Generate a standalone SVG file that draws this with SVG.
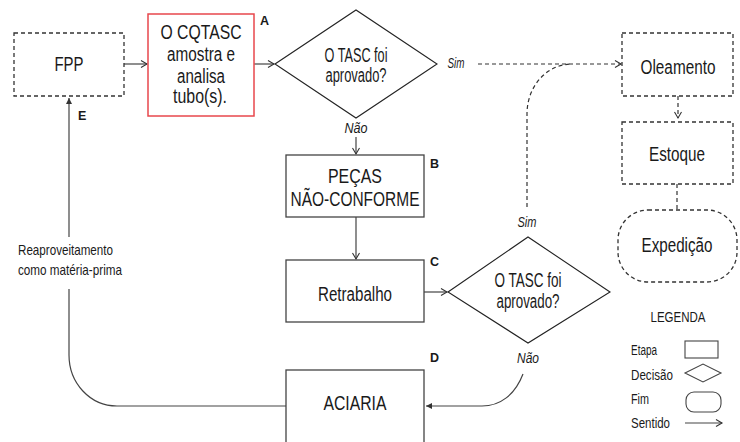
<svg xmlns="http://www.w3.org/2000/svg" width="740" height="442" viewBox="0 0 740 442">
<defs>
<style>
text{font-family:"Liberation Sans",Arial,sans-serif;fill:#1a1a1a}
.t{font-size:19.5px;text-anchor:middle}
.s{font-size:14px;font-style:italic;text-anchor:middle}
.lbl{font-size:12.5px;font-weight:bold}
.n{font-size:15px}
.g{font-size:14px}
.box{fill:#fff;stroke:#444;stroke-width:1.3}
.dbox{fill:#fff;stroke:#333;stroke-width:1.3;stroke-dasharray:4 3}
.red{fill:#fff;stroke:#e8474c;stroke-width:1.5}
.dia{fill:#fff;stroke:#222;stroke-width:1.1}
.c{fill:none;stroke:#444;stroke-width:1.2}
.dc{fill:none;stroke:#333;stroke-width:1.2;stroke-dasharray:4 3}
</style>
<marker id="ah" markerUnits="userSpaceOnUse" markerWidth="10" markerHeight="10" refX="7" refY="4" orient="auto">
<path d="M1,0.5 L7,4 L1,7.5" fill="none" stroke="#333" stroke-width="1.1"/>
</marker>
<marker id="af" markerUnits="userSpaceOnUse" markerWidth="8" markerHeight="8" refX="6" refY="3" orient="auto">
<path d="M0,0 L6,3 L0,6 Z" fill="#333"/>
</marker>
</defs>

<g id="connectors">
<line class="c" x1="124" y1="64" x2="147" y2="64" marker-end="url(#ah)"/>
<line class="c" x1="254" y1="64" x2="274" y2="64" marker-end="url(#ah)"/>
<line class="dc" x1="478" y1="64" x2="621" y2="64" marker-end="url(#ah)"/>
<line class="dc" x1="678" y1="96" x2="678" y2="118" marker-end="url(#ah)"/>
<line class="dc" x1="677" y1="184" x2="677" y2="210"/>
<path class="dc" d="M527,207 V114 C527,86 547,64 572,64"/>
<line class="c" x1="356" y1="137" x2="356" y2="154" marker-end="url(#ah)"/>
<line class="c" x1="356" y1="217" x2="356" y2="259" marker-end="url(#ah)"/>
<line class="c" x1="424" y1="292" x2="447" y2="292" marker-end="url(#ah)"/>
<path class="c" d="M523,374 C515,395 500,406 482,406 H426" marker-end="url(#af)"/>
<path class="c" d="M286,406 H117 C90,406 69,383 69,355 V289"/>
<line class="c" x1="69" y1="237" x2="69" y2="98" marker-end="url(#af)"/>
</g>

<g id="fpp">
<rect class="dbox" x="14" y="33" width="110" height="63"/>
<text class="t" x="69" y="71" textLength="29" lengthAdjust="spacingAndGlyphs">FPP</text>
</g>

<g id="cqtasc">
<rect class="red" x="148" y="14" width="106" height="102"/>
<text class="t" x="201" y="39" textLength="81" lengthAdjust="spacingAndGlyphs">O CQTASC</text>
<text class="t" x="201" y="61" textLength="68" lengthAdjust="spacingAndGlyphs">amostra e</text>
<text class="t" x="201" y="83" textLength="48" lengthAdjust="spacingAndGlyphs">analisa</text>
<text class="t" x="200" y="103" textLength="54" lengthAdjust="spacingAndGlyphs">tubo(s).</text>
<text class="lbl" x="260" y="25">A</text>
</g>

<g id="decisao1">
<polygon class="dia" points="275,64 356,10 437,64 356,118"/>
<text class="t" x="356" y="62" textLength="63" lengthAdjust="spacingAndGlyphs">O TASC foi</text>
<text class="t" x="356" y="82" textLength="61" lengthAdjust="spacingAndGlyphs">aprovado?</text>
<text class="s" x="456" y="68" textLength="17" lengthAdjust="spacingAndGlyphs">Sim</text>
<text class="s" x="356" y="133" textLength="23" lengthAdjust="spacingAndGlyphs">Não</text>
</g>

<g id="oleamento">
<rect class="dbox" x="622" y="33" width="111" height="63"/>
<text class="t" x="678" y="74" textLength="75" lengthAdjust="spacingAndGlyphs">Oleamento</text>
</g>

<g id="estoque">
<rect class="dbox" x="622" y="122" width="111" height="62"/>
<text class="t" x="677" y="161" textLength="56" lengthAdjust="spacingAndGlyphs">Estoque</text>
</g>

<g id="expedicao">
<rect class="dbox" x="618" y="210" width="119" height="72" rx="30" ry="30"/>
<text class="t" x="677" y="252" textLength="71" lengthAdjust="spacingAndGlyphs">Expedição</text>
</g>

<g id="pecas">
<rect class="box" x="286" y="155" width="138" height="62"/>
<text class="t" x="355" y="183" textLength="54" lengthAdjust="spacingAndGlyphs">PEÇAS</text>
<text class="t" x="355" y="206" textLength="129" lengthAdjust="spacingAndGlyphs">NÃO-CONFORME</text>
<text class="lbl" x="430" y="168">B</text>
</g>

<g id="retrabalho">
<rect class="box" x="286" y="260" width="138" height="62"/>
<text class="t" x="355" y="301" textLength="74" lengthAdjust="spacingAndGlyphs">Retrabalho</text>
<text class="lbl" x="430" y="266">C</text>
</g>

<g id="decisao2">
<polygon class="dia" points="448,292 528,237 610,292 528,343"/>
<text class="t" x="528" y="287" textLength="67" lengthAdjust="spacingAndGlyphs">O TASC foi</text>
<text class="t" x="528" y="308" textLength="63" lengthAdjust="spacingAndGlyphs">aprovado?</text>
<text class="s" x="527" y="227" textLength="19" lengthAdjust="spacingAndGlyphs">Sim</text>
<text class="s" x="528" y="363" textLength="22" lengthAdjust="spacingAndGlyphs">Não</text>
</g>

<g id="aciaria">
<rect class="box" x="286" y="370" width="138" height="80"/>
<text class="t" x="355" y="410" textLength="63" lengthAdjust="spacingAndGlyphs">ACIARIA</text>
<text class="lbl" x="430" y="362">D</text>
</g>

<g id="reaproveitamento">
<text class="lbl" x="78" y="120">E</text>
<text class="n" x="18" y="255" textLength="95" lengthAdjust="spacingAndGlyphs">Reaproveitamento</text>
<text class="n" x="18" y="275" textLength="104" lengthAdjust="spacingAndGlyphs">como matéria-prima</text>
</g>

<g id="legenda">
<text class="g" x="678" y="322" text-anchor="middle" textLength="55" lengthAdjust="spacingAndGlyphs">LEGENDA</text>
<text class="g" x="631" y="355" textLength="26" lengthAdjust="spacingAndGlyphs">Etapa</text>
<rect x="685" y="341" width="33" height="17" fill="#fff" stroke="#444" stroke-width="1.1"/>
<text class="g" x="631" y="380" textLength="42" lengthAdjust="spacingAndGlyphs">Decisão</text>
<polygon points="685,373 703,364 721,373 703,382" fill="#fff" stroke="#444" stroke-width="1.1"/>
<text class="g" x="631" y="404" textLength="18" lengthAdjust="spacingAndGlyphs">Fim</text>
<rect x="686" y="392" width="35" height="20" rx="8" fill="#fff" stroke="#444" stroke-width="1.1"/>
<text class="g" x="631" y="428" textLength="39" lengthAdjust="spacingAndGlyphs">Sentido</text>
<line x1="685" y1="423" x2="722" y2="423" stroke="#444" stroke-width="1.1" marker-end="url(#ah)"/>
</g>
</svg>
